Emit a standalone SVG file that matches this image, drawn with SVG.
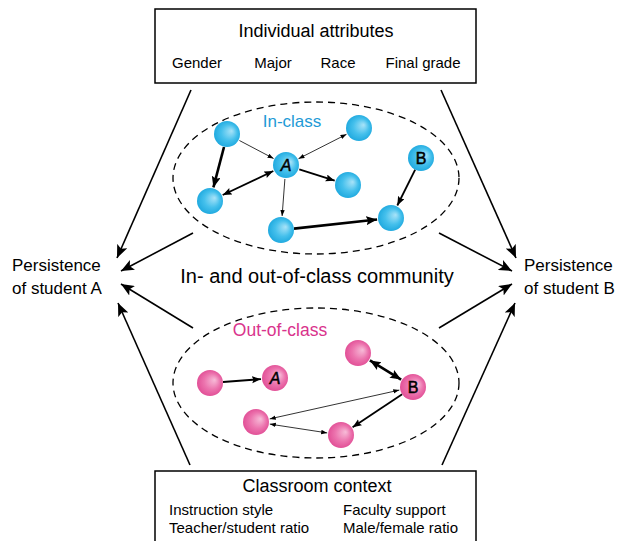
<svg xmlns="http://www.w3.org/2000/svg" width="623" height="541" viewBox="0 0 623 541">
<style>
text{font-family:"Liberation Sans",Arial,sans-serif;fill:#000}
.box{fill:#fff;stroke:#000;stroke-width:1.5}
.ell{fill:none;stroke:#000;stroke-width:1.3;stroke-dasharray:7 5}
.outer{stroke:#000;stroke-width:1.6;fill:none;marker-end:url(#mOuter)}
.e{stroke:#000;fill:none}
.thin{stroke-width:0.8}
.med{stroke-width:1.8}
.thick{stroke-width:2.6}
.lbl{font-size:16px;font-style:italic;text-anchor:middle;stroke:#000;stroke-width:0.5}
</style>
<defs>
<radialGradient id="gBlue" cx="0.5" cy="0.5" r="0.55" fx="0.68" fy="0.38">
<stop offset="0" stop-color="#a9e3f8"/>
<stop offset="0.55" stop-color="#45c0ec"/>
<stop offset="1" stop-color="#1aa6dd"/>
</radialGradient>
<radialGradient id="gPink" cx="0.5" cy="0.5" r="0.55" fx="0.68" fy="0.38">
<stop offset="0" stop-color="#f7bcd8"/>
<stop offset="0.55" stop-color="#ec74ae"/>
<stop offset="1" stop-color="#e04a93"/>
</radialGradient>
<marker id="mOuter" markerUnits="userSpaceOnUse" markerWidth="14" markerHeight="11" refX="13" refY="5.5" orient="auto">
<path d="M0,0 L13,5.5 L0,11 L3,5.5 z" fill="#000"/>
</marker>
<marker id="mThin" markerUnits="userSpaceOnUse" markerWidth="7" markerHeight="5" refX="6" refY="2.2" orient="auto-start-reverse">
<path d="M0,0 L6,2.2 L0,4.4 z" fill="#000"/>
</marker>
<marker id="mMed" markerUnits="userSpaceOnUse" markerWidth="10" markerHeight="8" refX="9" refY="3.6" orient="auto-start-reverse">
<path d="M0,0 L9,3.6 L0,7.2 L1.5,3.6 z" fill="#000"/>
</marker>
<marker id="mThick" markerUnits="userSpaceOnUse" markerWidth="12" markerHeight="10" refX="11" refY="4.5" orient="auto-start-reverse">
<path d="M0,0 L11,4.5 L0,9 L2,4.5 z" fill="#000"/>
</marker>
</defs>

<g id="individual-attributes">
<rect class="box" x="155" y="9" width="321" height="74"/>
<text x="316" y="37" font-size="18" text-anchor="middle">Individual attributes</text>
<text x="197" y="68" font-size="15" text-anchor="middle">Gender</text>
<text x="273" y="68" font-size="15" text-anchor="middle">Major</text>
<text x="338" y="68" font-size="15" text-anchor="middle">Race</text>
<text x="423" y="68" font-size="15" text-anchor="middle">Final grade</text>
</g>

<g id="classroom-context">
<rect class="box" x="155" y="471" width="321" height="80"/>
<text x="317" y="492" font-size="18" text-anchor="middle">Classroom context</text>
<text x="169" y="515" font-size="15">Instruction style</text>
<text x="169" y="533" font-size="15">Teacher/student ratio</text>
<text x="343" y="515" font-size="15">Faculty support</text>
<text x="343" y="533" font-size="15">Male/female ratio</text>
</g>

<g id="persistence-a">
<text x="12" y="271" font-size="17">Persistence</text>
<text x="12" y="294" font-size="17">of student A</text>
</g>
<g id="persistence-b">
<text x="524" y="271" font-size="17">Persistence</text>
<text x="524" y="294" font-size="17">of student B</text>
</g>

<g id="community">
<text x="317" y="283" font-size="20" text-anchor="middle">In- and out-of-class community</text>
</g>

<g id="in-class">
<ellipse class="ell" cx="316" cy="178" rx="143" ry="76"/>
<text x="292" y="127" font-size="17" text-anchor="middle" style="fill:#1e9ad6">In-class</text>
</g>
<g id="out-of-class">
<ellipse class="ell" cx="316" cy="383" rx="143" ry="75"/>
<text x="280" y="336" font-size="17.5" text-anchor="middle" style="fill:#d9338c">Out-of-class</text>
</g>

<g id="connectors">
<line class="outer" x1="191" y1="90" x2="117" y2="258"/>
<line class="outer" x1="193" y1="233" x2="121" y2="271"/>
<line class="outer" x1="193" y1="328" x2="121" y2="284"/>
<line class="outer" x1="190" y1="465" x2="118" y2="303"/>
<line class="outer" x1="441" y1="90" x2="516" y2="258"/>
<line class="outer" x1="439" y1="233" x2="512" y2="271"/>
<line class="outer" x1="439" y1="328" x2="512" y2="284"/>
<line class="outer" x1="442" y1="465" x2="515" y2="303"/>

<line class="e thick" x1="224" y1="147" x2="213.4" y2="187.4" marker-end="url(#mThick)"/>
<line class="e thin" x1="239.4" y1="140.5" x2="273.6" y2="158.5" marker-end="url(#mThin)"/>
<line class="e thin" x1="298.5" y1="158.7" x2="346.5" y2="134.3" marker-start="url(#mThin)" marker-end="url(#mThin)"/>
<line class="e med" x1="273.3" y1="171" x2="222.7" y2="195" marker-start="url(#mMed)" marker-end="url(#mMed)"/>
<line class="e med" x1="299.3" y1="169.3" x2="334.7" y2="180.7" marker-end="url(#mMed)"/>
<line class="e thin" x1="284.9" y1="179" x2="282.1" y2="216" marker-end="url(#mThin)"/>
<line class="e thick" x1="294" y1="228.6" x2="377.1" y2="219.5" marker-end="url(#mThick)"/>
<line class="e med" x1="415.2" y1="169.6" x2="397.3" y2="205.5" marker-end="url(#mMed)"/>

<line class="e med" x1="223" y1="382" x2="261" y2="379.1" marker-end="url(#mMed)"/>
<line class="e thick" x1="369.9" y1="360.4" x2="401.1" y2="379.6" marker-start="url(#mThick)" marker-end="url(#mThick)"/>
<line class="e thin" x1="399.3" y1="390.1" x2="269.7" y2="418.9" marker-start="url(#mThin)" marker-end="url(#mThin)"/>
<line class="e thin" x1="269.8" y1="424.1" x2="327.2" y2="432.9" marker-start="url(#mThin)" marker-end="url(#mThin)"/>
<line class="e med" x1="402.2" y1="394.2" x2="352.6" y2="427.2" marker-end="url(#mMed)"/>
</g>

<g id="in-n1"><circle cx="227" cy="134" r="13" fill="url(#gBlue)"/></g>
<g id="in-n2"><circle cx="359" cy="128" r="13" fill="url(#gBlue)"/></g>
<g id="in-a"><circle cx="286" cy="165" r="13" fill="url(#gBlue)"/><text class="lbl" x="286" y="171">A</text></g>
<g id="in-b"><circle cx="421" cy="158" r="13" fill="url(#gBlue)"/><text class="lbl" x="421" y="164" style="font-style:normal">B</text></g>
<g id="in-n3"><circle cx="210" cy="201" r="13" fill="url(#gBlue)"/></g>
<g id="in-n4"><circle cx="348" cy="185" r="13" fill="url(#gBlue)"/></g>
<g id="in-n5"><circle cx="281" cy="230" r="13" fill="url(#gBlue)"/></g>
<g id="in-n6"><circle cx="391" cy="218" r="13" fill="url(#gBlue)"/></g>

<g id="out-p1"><circle cx="210" cy="383" r="13" fill="url(#gPink)"/></g>
<g id="out-a"><circle cx="275" cy="378" r="13" fill="url(#gPink)"/><text class="lbl" x="275" y="384">A</text></g>
<g id="out-p2"><circle cx="358" cy="353" r="13" fill="url(#gPink)"/></g>
<g id="out-b"><circle cx="413" cy="387" r="13" fill="url(#gPink)"/><text class="lbl" x="413" y="393" style="font-style:normal">B</text></g>
<g id="out-p3"><circle cx="256" cy="422" r="13" fill="url(#gPink)"/></g>
<g id="out-p4"><circle cx="341" cy="435" r="13" fill="url(#gPink)"/></g>
</svg>
